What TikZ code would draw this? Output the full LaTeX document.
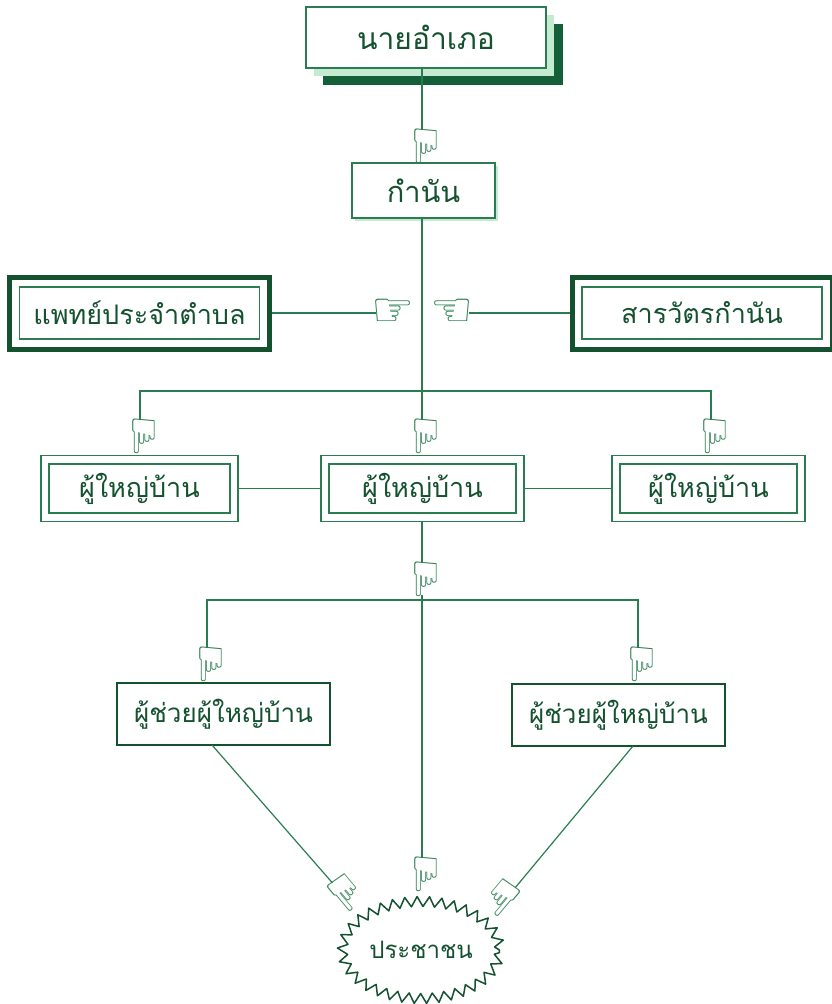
\documentclass[tikz,border=0pt]{standalone}
\usepackage{fontspec}
\usepackage{graphicx}
\newfontfamily\thaifont[Script=Thai]{Loma}
\newfontfamily\handfont{DejaVu Sans}
\usepackage{xcolor}
\usetikzlibrary{%
	shapes.geometric,%
	positioning,%
	shadows,%
	decorations.pathmorphing,% zigzag round the people
	calc
}
\definecolor{linegreen}{HTML}{2A7D50}
\definecolor{darkgreen}{HTML}{145F38}
\definecolor{palegreen}{HTML}{C4EAD2}
\definecolor{inkgreen}{HTML}{14512F}
\tikzstyle{box} = [rectangle, draw = linegreen, line width = 1.3pt, fill = white, text = inkgreen, font = \thaifont\fontsize{27}{30}\selectfont, inner sep = 0pt]
\tikzstyle{chief} = [box, general shadow = {shadow xshift = 17pt, shadow yshift = -17pt, fill = darkgreen}, general shadow = {shadow xshift = 8pt, shadow yshift = -8pt, fill = palegreen}]
\tikzstyle{heavy} = [box, draw = inkgreen, line width = 5pt]
\tikzstyle{thin} = [box, line width = 1.2pt]
\tikzstyle{assist} = [box, draw = inkgreen, line width = 1.8pt]
\tikzstyle{people} = [ellipse, draw = inkgreen, line width = 1.5pt, line join = round, text = inkgreen, font = \thaifont\fontsize{24}{26}\selectfont, inner sep = 0pt, decorate, decoration = {zigzag, segment length = 12pt, amplitude = 5pt}]
\tikzstyle{edge} = [draw = linegreen, line width = 1.2pt]
\tikzstyle{hand} = [text = linegreen, font = \handfont\fontsize{48}{48}\selectfont, inner sep = 0pt, minimum size = 0pt]
\newcommand{\down}{\makebox[0pt]{\kern 8pt\reflectbox{\char"261F}}}
\begin{document}
\begin{tikzpicture}[x=1pt,y=-1pt]
		\useasboundingbox (0,0) rectangle (831,1004);
		
		% First we draw the boxes
		\node[chief, minimum width = 240pt, minimum height = 61pt, font = \thaifont\fontsize{30}{32}\selectfont] (amphoe) at (426,37.5) {นายอำเภอ};
		\node[box, minimum width = 143pt, minimum height = 55pt, general shadow = {shadow xshift = 3pt, shadow yshift = -3pt, fill = palegreen}, font = \thaifont\fontsize{29}{32}\selectfont] (kamnan) at (423.5,190.5) {กำนัน};
		
		\foreach \pos/\name/\label in {{(139.5,313)/doctor/แพทย์ประจำตำบล}, {(702,313)/clerk/สารวัตรกำนัน}}
		{
			\node[heavy, minimum width = 260pt, minimum height = 72pt] (\name) at \pos {};
			\node[thin, minimum width = 240pt, minimum height = 52pt] (\name in) at \pos {\label};
		}
		
		\foreach \pos/\name/\wide in {{(139.5,488.5)/headl/197}, {(422.5,488.5)/headc/203}, {(708.5,488.5)/headr/193}}
		{
			\node[thin, minimum width = \wide pt, minimum height = 66pt] (\name) at \pos {};
			\node[thin, minimum width = \wide pt - 16pt, minimum height = 49pt] (\name in) at \pos {ผู้ใหญ่บ้าน};
		}
		
		\foreach \pos/\name in {{(223.5,714)/helpl}, {(618.5,715)/helpr}}
		\node[assist, minimum width = 213pt, minimum height = 62pt, font = \thaifont\fontsize{26}{30}\selectfont] (\name) at \pos {ผู้ช่วยผู้ใหญ่บ้าน};
		
		\node[people, minimum width = 157pt, minimum height = 97pt] (folk) at (421,950) {ประชาชน};
		
		% Corners and crossings of the lines
		\coordinate (bar1) at (422,391);
		\coordinate (bar2) at (422,600);
		\coordinate (left1) at (212,745);
		\coordinate (right1) at (633,746);
		
		% Then the lines, hands go over them
		\foreach \pos/\name in {{(422,146)/h1}, {(140,436)/h2}, {(422,436)/h3}, {(711,436)/h4}, {(422,579)/h5}, {(207,664)/h6}, {(638,664)/h7}, {(422,874)/h8}}
		\node[hand] (\name) at \pos {\down};
		\node[hand, rotate = 40] (h9) at (343,895) {\down};
		\node[hand, rotate = -40] (h10) at (505,900) {\reflectbox{\down}};
		\node[hand] (h11) at (393,313) {\char"261E};
		\node[hand] (h12) at (452,313) {\char"261C};
		
		% Connect boxes with hands
		\foreach \source/ \dest in {h2/bar1, h3/bar1, h4/bar1, h6/bar2, h7/bar2}
		\path[edge, shorten < = 16pt] (\source.center) |- (\dest);
		\path[edge, shorten > = 16pt] (amphoe.south -| h1) -- (h1.center);
		\path[edge] (kamnan.south -| bar1) -- (bar1);
		\path[edge, shorten > = -5pt] (doctor) -- (h11.west);
		\path[edge, shorten > = -5pt] (clerk) -- (h12.east);
		\path[edge] (headl) -- (headc);
		\path[edge] (headc) -- (headr);
		\path[edge, shorten > = 16pt] (headc.south -| h5) -- (h5.center);
		\path[edge, shorten > = 16pt, shorten < = 16pt] (h5.center) -- (h8.center);
		\path[edge, shorten > = 16pt] (left1) -- (h9.center);
		\path[edge, shorten > = 16pt] (right1) -- (h10.center);
		
		\end{tikzpicture}
\end{document}
